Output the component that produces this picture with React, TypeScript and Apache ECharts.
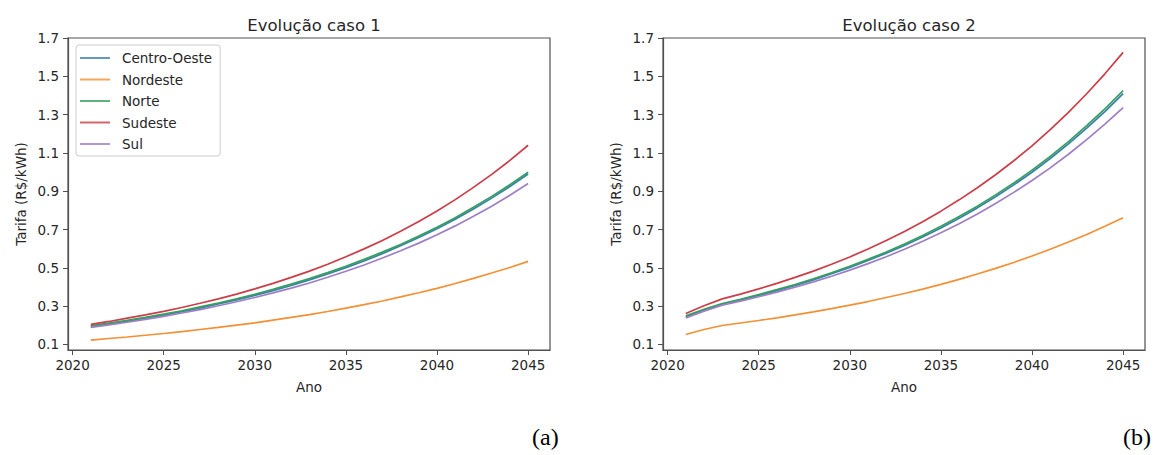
import React, { useEffect, useRef } from "react";
import * as echarts from "echarts";

const years = [2021, 2022, 2023, 2024, 2025, 2026, 2027, 2028, 2029, 2030, 2031, 2032, 2033, 2034, 2035, 2036, 2037, 2038, 2039, 2040, 2041, 2042, 2043, 2044, 2045];
const regions = ["Centro-Oeste", "Nordeste", "Norte", "Sudeste", "Sul"];

// Caso 1
const caso1CentroOeste = [0.193, 0.207, 0.221, 0.237, 0.253, 0.271, 0.290, 0.311, 0.333, 0.356, 0.381, 0.408, 0.437, 0.468, 0.501, 0.536, 0.574, 0.615, 0.658, 0.704, 0.754, 0.807, 0.864, 0.925, 0.990];
const caso1Nordeste = [0.123, 0.131, 0.139, 0.148, 0.157, 0.167, 0.178, 0.189, 0.201, 0.213, 0.227, 0.241, 0.256, 0.272, 0.290, 0.308, 0.327, 0.348, 0.370, 0.393, 0.418, 0.445, 0.473, 0.502, 0.534];
const caso1Norte = [0.197, 0.211, 0.226, 0.241, 0.258, 0.276, 0.296, 0.316, 0.338, 0.362, 0.388, 0.415, 0.444, 0.475, 0.508, 0.544, 0.582, 0.622, 0.666, 0.712, 0.762, 0.816, 0.873, 0.934, 0.999];
const caso1Sudeste = [0.205, 0.220, 0.237, 0.254, 0.273, 0.293, 0.315, 0.338, 0.363, 0.390, 0.419, 0.450, 0.483, 0.519, 0.558, 0.599, 0.643, 0.691, 0.742, 0.797, 0.856, 0.920, 0.988, 1.061, 1.140];
const caso1Sul = [0.189, 0.202, 0.216, 0.231, 0.247, 0.264, 0.282, 0.302, 0.323, 0.345, 0.369, 0.394, 0.421, 0.451, 0.482, 0.515, 0.551, 0.589, 0.629, 0.673, 0.719, 0.769, 0.822, 0.879, 0.940];

// Caso 2
const caso2CentroOeste = [0.245, 0.280, 0.310, 0.332, 0.356, 0.381, 0.408, 0.437, 0.469, 0.502, 0.538, 0.576, 0.617, 0.661, 0.708, 0.759, 0.813, 0.871, 0.933, 0.999, 1.071, 1.147, 1.229, 1.316, 1.410];
const caso2Nordeste = [0.152, 0.178, 0.199, 0.212, 0.225, 0.239, 0.254, 0.270, 0.287, 0.305, 0.324, 0.345, 0.366, 0.389, 0.414, 0.440, 0.468, 0.497, 0.528, 0.562, 0.597, 0.635, 0.674, 0.717, 0.762];
const caso2Norte = [0.250, 0.284, 0.314, 0.336, 0.360, 0.386, 0.413, 0.443, 0.474, 0.508, 0.544, 0.583, 0.624, 0.669, 0.717, 0.768, 0.822, 0.881, 0.943, 1.010, 1.082, 1.159, 1.242, 1.330, 1.425];
const caso2Sudeste = [0.262, 0.302, 0.338, 0.363, 0.390, 0.419, 0.450, 0.483, 0.519, 0.557, 0.598, 0.643, 0.690, 0.741, 0.796, 0.855, 0.918, 0.986, 1.059, 1.137, 1.222, 1.312, 1.409, 1.513, 1.625];
const caso2Sul = [0.238, 0.274, 0.305, 0.326, 0.349, 0.373, 0.399, 0.427, 0.456, 0.488, 0.522, 0.558, 0.597, 0.639, 0.683, 0.730, 0.781, 0.836, 0.894, 0.956, 1.022, 1.093, 1.169, 1.250, 1.337];

const caso1 = [caso1CentroOeste, caso1Nordeste, caso1Norte, caso1Sudeste, caso1Sul];
const caso2 = [caso2CentroOeste, caso2Nordeste, caso2Norte, caso2Sudeste, caso2Sul];

const xTicks = [2020, 2025, 2030, 2035, 2040, 2045];
const yTicks = [0.1, 0.3, 0.5, 0.7, 0.9, 1.1, 1.3, 1.5, 1.7];
const titles = ["Evolução caso 1", "Evolução caso 2"];
const panelLabels = ["(a)", "(b)"];

const colors = ["#3b7fae", "#f39035", "#33a05e", "#cc3d48", "#9f7fc4"];
const FONT = "DejaVu Sans";
const AXIS = "#505050";
const TEXT = "#262626";

export default function App() {
  const ref = useRef<HTMLDivElement>(null);
  useEffect(() => {
    const chart = echarts.init(ref.current!, null, { renderer: "svg" });
    const gridDefs = [
      { left: 68, top: 38, width: 482, height: 312 },
      { left: 663, top: 38, width: 482, height: 312 },
    ];
    const makeX = (i: number) => ({
      type: "value",
      gridIndex: i,
      min: 2019.75,
      max: 2046.2,
      name: "Ano",
      nameLocation: "middle",
      nameGap: 30,
      nameTextStyle: { fontFamily: FONT, fontSize: 13.5, color: TEXT },
      splitLine: { show: false },
      axisLine: { show: true, lineStyle: { color: AXIS, width: 1.2 } },
      axisTick: { show: true, length: 5, lineStyle: { color: AXIS }, customValues: xTicks },
      axisLabel: {
        margin: 8,
        fontFamily: FONT,
        fontSize: 13.5,
        color: TEXT,
        customValues: xTicks,
        formatter: (v: number) => String(Math.round(v)),
      },
    });
    const makeY = (i: number) => ({
      type: "value",
      gridIndex: i,
      min: 0.071,
      max: 1.7,
      name: "Tarifa (R$/kWh)",
      nameLocation: "middle",
      nameGap: 40,
      nameTextStyle: { fontFamily: FONT, fontSize: 13.5, color: TEXT },
      splitLine: { show: false },
      axisLine: { show: true, lineStyle: { color: AXIS, width: 1.2 } },
      axisTick: { show: true, length: 5, lineStyle: { color: AXIS }, customValues: yTicks },
      axisLabel: {
        margin: 9,
        fontFamily: FONT,
        fontSize: 13.5,
        color: TEXT,
        customValues: yTicks,
        formatter: (v: number) => v.toFixed(1),
      },
    });
    const series: any[] = [];
    [caso1, caso2].forEach((caso, gi) => {
      caso.forEach((vals, si) => {
        series.push({
          type: "line",
          name: regions[si],
          xAxisIndex: gi,
          yAxisIndex: gi,
          data: years.map((y, k) => [y, vals[k]]),
          symbol: "none",
          showSymbol: false,
          lineStyle: { width: 1.7, color: colors[si] },
          itemStyle: { color: colors[si] },
          z: 2 + si,
        });
      });
    });
    chart.setOption({
      animation: false,
      color: colors,
      textStyle: { fontFamily: FONT },
      title: titles.map((t, i) => ({
        text: t,
        left: i === 0 ? 309 : 904,
        top: 12,
        textAlign: "center",
        textStyle: { fontFamily: FONT, fontSize: 16.5, fontWeight: "normal", color: TEXT },
      })),
      grid: gridDefs.map((g) => ({
        ...g,
        show: true,
        borderColor: AXIS,
        borderWidth: 1.2,
        backgroundColor: "transparent",
      })),
      xAxis: [makeX(0), makeX(1)],
      yAxis: [makeY(0), makeY(1)],
      legend: {
        data: regions,
        orient: "vertical",
        left: 76,
        top: 45,
        padding: [6, 8, 5, 4],
        itemWidth: 30,
        itemHeight: 2,
        itemGap: 7.5,
        icon: "rect",
        backgroundColor: "rgba(255,255,255,0.8)",
        borderColor: "#cccccc",
        borderWidth: 1,
        borderRadius: 3,
        itemStyle: { opacity: 0.8 },
        textStyle: { fontFamily: FONT, fontSize: 13.5, color: TEXT, lineHeight: 14, padding: [0, 0, 0, 7] },
      },
      graphic: panelLabels.map((t, i) => ({
        type: "text",
        left: i === 0 ? 532 : 1123,
        top: 425,
        style: { text: t, font: '24px "Liberation Serif", "Times New Roman", serif', fill: "#000" },
      })),
      series,
    });
    return () => chart.dispose();
  }, []);
  return <div ref={ref} style={{ position: "absolute", left: 0, top: 0, width: 1160, height: 455 }} />;
}
